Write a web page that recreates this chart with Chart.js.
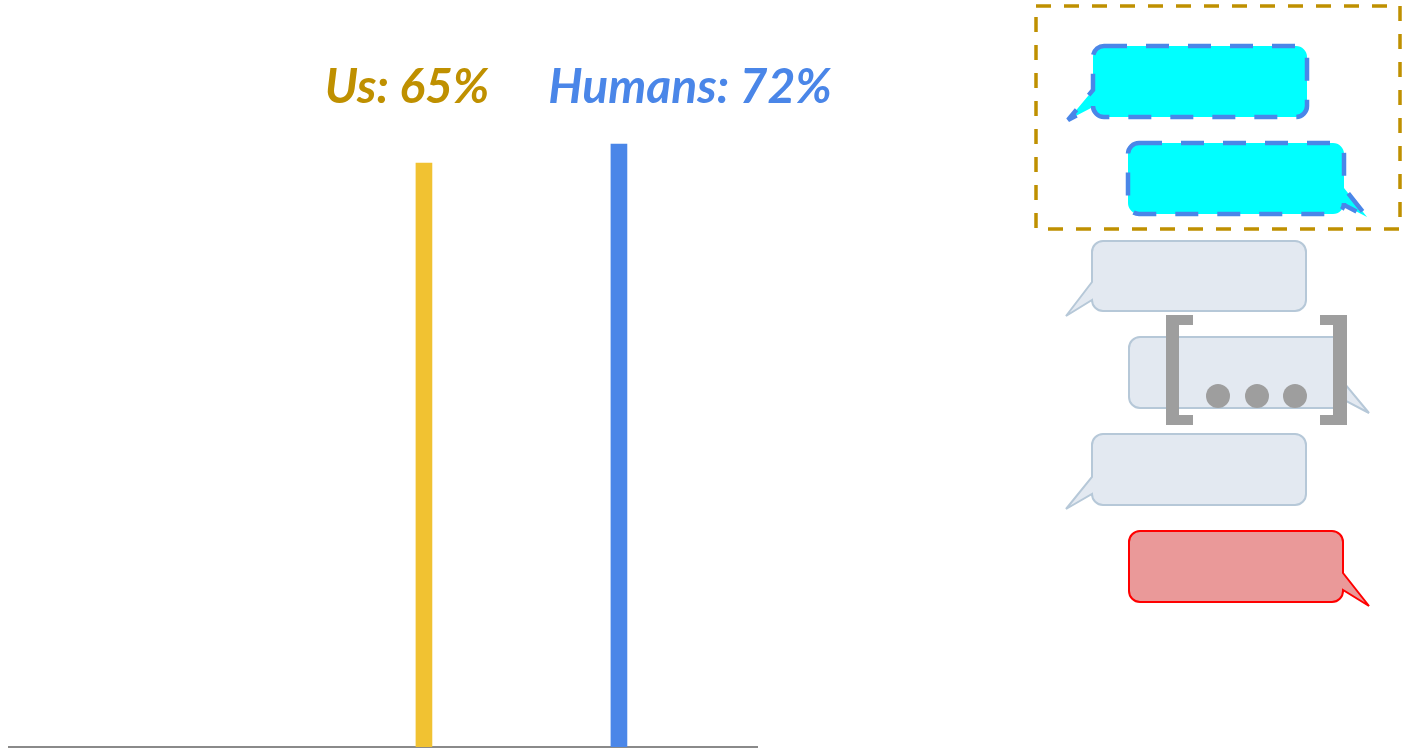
<!DOCTYPE html>
<html>
<head>
<meta charset="utf-8">
<script src="https://cdn.jsdelivr.net/npm/chart.js@4"></script>
<style>
  html, body { margin: 0; padding: 0; background: #fff; }
  body { width: 1403px; height: 749px; position: relative; overflow: hidden; }
  #chartBox { position: absolute; left: 0; top: 0; width: 770px; height: 749px; }
  .label {
    position: absolute; top: 61px;
    font-family: Lato, sans-serif; font-style: italic; font-weight: 700;
    font-size: 48px; line-height: 1; white-space: nowrap;
    transform: translateX(-50%);
  }
  #bubbles { position: absolute; left: 0; top: 0; }
</style>
</head>
<body>
<div id="chartBox"><canvas id="scoreChart"></canvas></div>
<div id="labels"></div>

<svg id="bubbles" width="1403" height="749">
  <!-- highlighted pair -->
  <rect x="1036" y="6" width="364" height="223" fill="none" stroke="#bf9000" stroke-width="3.5" stroke-dasharray="15 13"/>
  <path d="M1104,46 H1296 A11,11 0 0 1 1307,57 V106 A11,11 0 0 1 1296,117 H1104 A11,11 0 0 1 1093,106 V107 L1068,120 L1093,90 V57 A11,11 0 0 1 1104,46 Z"
        fill="#00ffff" stroke="#4a86e8" stroke-width="4.5" stroke-dasharray="23 19"/>
  <path d="M1139,143 H1333 A11,11 0 0 1 1344,154 V188 L1367,217 L1344,205 V203 A11,11 0 0 1 1333,214 H1139 A11,11 0 0 1 1128,203 V154 A11,11 0 0 1 1139,143 Z"
        fill="#00ffff" stroke="#4a86e8" stroke-width="4.5" stroke-dasharray="23 19"/>

  <!-- grey conversation -->
  <path d="M1103,241 H1295 A11,11 0 0 1 1306,252 V300 A11,11 0 0 1 1295,311 H1103 A11,11 0 0 1 1092,300 L1066,316 L1092,282 V252 A11,11 0 0 1 1103,241 Z"
        fill="#e3e9f1" stroke="#b6c8d8" stroke-width="2"/>
  <path d="M1140,337 H1333 A11,11 0 0 1 1344,348 V383 L1369,413 L1344,400 V397 A11,11 0 0 1 1333,408 H1140 A11,11 0 0 1 1129,397 V348 A11,11 0 0 1 1140,337 Z"
        fill="#e3e9f1" stroke="#b6c8d8" stroke-width="2"/>
  <path d="M1103,434 H1295 A11,11 0 0 1 1306,445 V494 A11,11 0 0 1 1295,505 H1103 A11,11 0 0 1 1092,494 L1066,509 L1092,477 V445 A11,11 0 0 1 1103,434 Z"
        fill="#e3e9f1" stroke="#b6c8d8" stroke-width="2"/>

  <!-- ellipsis in brackets -->
  <path d="M1166,315 H1193 V325 H1179 V415 H1193 V425 H1166 Z" fill="#9e9e9e"/>
  <path d="M1347,315 H1320 V325 H1333 V415 H1320 V425 H1347 Z" fill="#9e9e9e"/>
  <circle cx="1218" cy="396" r="12" fill="#9e9e9e"/>
  <circle cx="1257" cy="396" r="12" fill="#9e9e9e"/>
  <circle cx="1295" cy="396" r="12" fill="#9e9e9e"/>

  <!-- red reply -->
  <path d="M1140,531 H1332 A11,11 0 0 1 1343,542 V573 L1369,606 L1343,590 V591 A11,11 0 0 1 1332,602 H1140 A11,11 0 0 1 1129,591 V542 A11,11 0 0 1 1140,531 Z"
        fill="#ea9999" stroke="#ff0000" stroke-width="2"/>
</svg>

<script>
const categories = ['Us', 'Humans'];
const scores = [65, 72];
const barColors = ['#f1c232', '#4a86e8'];
const labelColors = ['#bf9000', '#4a86e8'];

// axis range (the bars start from the bottom of the axis, not from zero)
const yMin = -150;
const yMax = 125;

const labelCenters = [407, 690];
const labelsBox = document.getElementById('labels');
categories.forEach((name, i) => {
    const div = document.createElement('div');
    div.className = 'label';
    div.style.left = labelCenters[i] + 'px';
    div.style.color = labelColors[i];
    div.textContent = name + ': ' + scores[i] + '%';
    labelsBox.appendChild(div);
});

const ctx = document.getElementById('scoreChart').getContext('2d');
new Chart(ctx, {
    type: 'bar',
    data: {
        datasets: [{
            label: 'Score',
            data: categories.map((name, i) => ({ x: i, y: scores[i] })),
            backgroundColor: barColors,
            barThickness: 16,
            base: yMin
        }]
    },
    options: {
        responsive: true,
        maintainAspectRatio: false,
        animation: false,
        layout: { padding: { left: 9, right: 13, top: 0, bottom: 2 } },
        plugins: {
            legend: { display: false },
            tooltip: { enabled: false }
        },
        scales: {
            x: {
                type: 'linear',
                offset: false,
                min: -2.128,
                max: 1.708,
                grid: { display: false, drawTicks: false },
                ticks: { display: false },
                border: { color: '#8a8a8a', width: 2 }
            },
            y: {
                display: false,
                min: yMin,
                max: yMax
            }
        }
    }
});
</script>
</body>
</html>
